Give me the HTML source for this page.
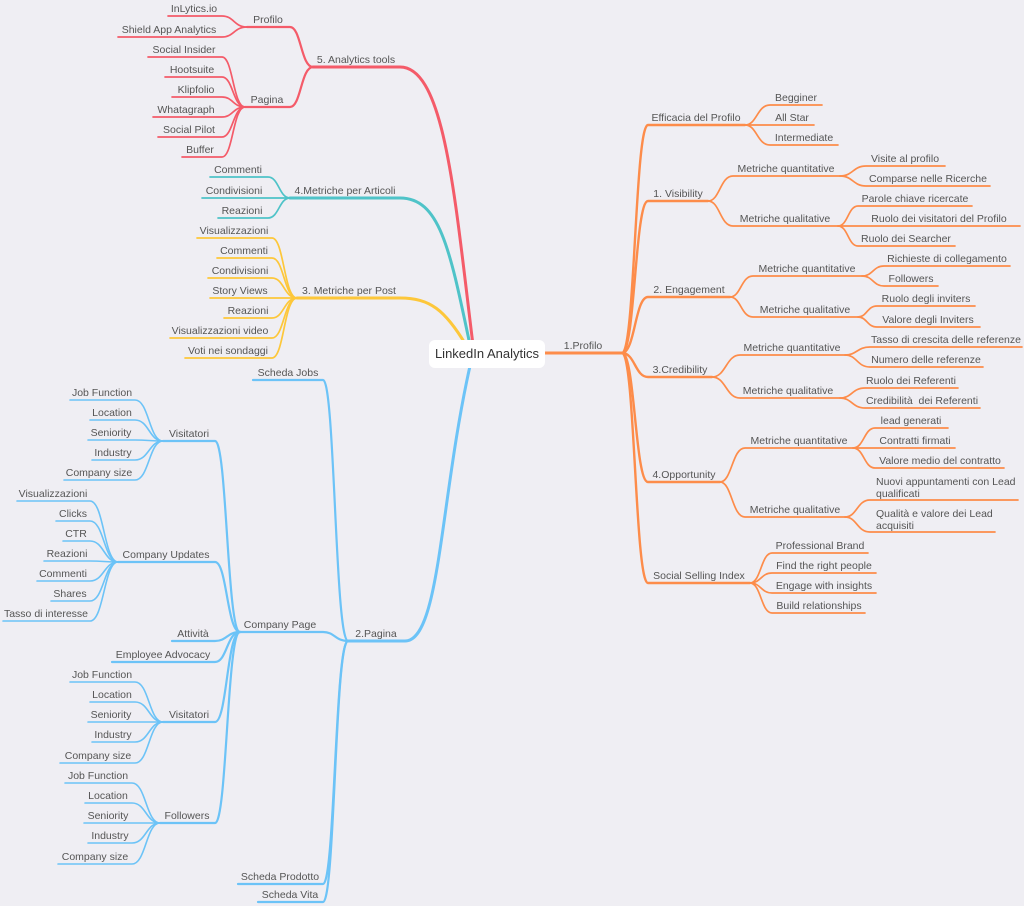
<!DOCTYPE html>
<html><head><meta charset="utf-8"><style>
html,body{margin:0;padding:0;background:#efeef3;}
svg{display:block}
text{font-family:"Liberation Sans",Arial,sans-serif;font-size:10.5px;fill:#555;text-anchor:middle}
path{fill:none;stroke-linecap:round}
</style></head><body>
<svg width="1024" height="906" viewBox="0 0 1024 906" xmlns="http://www.w3.org/2000/svg">
<!-- ORANGE -->
<g stroke="#fd8c4a">
<path stroke-width="3" d="M545 353 H622"/>
<g stroke-width="2.4">
<path d="M622 353 C635 353 635 125 648 125 H745"/>
<path d="M622 353 C635 353 635 201 648 201 H708"/>
<path d="M622 353 C635 353 635 297 648 297 H730"/>
<path d="M622 353 C635 353 635 377 648 377 H712"/>
<path d="M622 353 C635 353 635 482 648 482 H720"/>
<path d="M622 353 C635 353 635 583 648 583 H750"/>
</g>
<g stroke-width="1.7">
<path d="M745 125 C757 125 757 105 770 105 H822"/>
<path d="M745 125 C757 125 757 125 770 125 H814"/>
<path d="M745 125 C757 125 757 145 770 145 H838"/>
<path d="M708 201 C720 201 720 176 733 176 H840"/>
<path d="M708 201 C720 201 720 226 733 226 H838"/>
<path d="M840 176 C853 176 853 166 866 166 H945"/>
<path d="M840 176 C853 176 853 186 866 186 H990"/>
<path d="M838 226 C848 226 848 206 858 206 H972"/>
<path d="M838 226 C848 226 848 226 858 226 H1020"/>
<path d="M838 226 C848 226 848 246 858 246 H955"/>
<path d="M730 297 C741 297 741 276 753 276 H862"/>
<path d="M730 297 C741 297 741 317 753 317 H858"/>
<path d="M862 276 C873 276 873 266 884 266 H1010"/>
<path d="M862 276 C873 276 873 286 884 286 H938"/>
<path d="M858 317 C867 317 867 306 877 306 H975"/>
<path d="M858 317 C867 317 867 327 877 327 H980"/>
<path d="M712 377 C726 377 726 355 740 355 H845"/>
<path d="M712 377 C726 377 726 398 740 398 H840"/>
<path d="M845 355 C857 355 857 347 870 347 H1022"/>
<path d="M845 355 C857 355 857 367 870 367 H983"/>
<path d="M840 398 C852 398 852 388 865 388 H958"/>
<path d="M840 398 C852 398 852 408 865 408 H980"/>
<path d="M720 482 C732 482 732 448 745 448 H853"/>
<path d="M720 482 C732 482 732 517 745 517 H845"/>
<path d="M853 448 C864 448 864 428 875 428 H948"/>
<path d="M853 448 C864 448 864 448 875 448 H955"/>
<path d="M853 448 C864 448 864 468 875 468 H1004"/>
<path d="M845 517 C857 517 857 500 870 500 H1018"/>
<path d="M845 517 C857 517 857 532 870 532 H995"/>
<path d="M750 583 C761 583 761 553 772 553 H868"/>
<path d="M750 583 C761 583 761 573 772 573 H876"/>
<path d="M750 583 C761 583 761 593 772 593 H876"/>
<path d="M750 583 C761 583 761 613 772 613 H865"/>
</g>
</g>
<!-- RED -->
<g stroke="#f45b69">
<path stroke-width="3" d="M473 345 C455 200 445 67 400 67 H313"/>
<g stroke-width="2.2">
<path d="M313 67 C301 67 301 27 290 27 H247"/>
<path d="M313 67 C301 67 301 107 290 107 H245"/>
</g>
<g stroke-width="1.7">
<path d="M247 27 C234 27 234 16 222 16 H168"/>
<path d="M247 27 C234 27 234 37 222 37 H118"/>
<path d="M245 107 C233 107 233 57 222 57 H148"/>
<path d="M245 107 C233 107 233 77 222 77 H165"/>
<path d="M245 107 C233 107 233 97 222 97 H172"/>
<path d="M245 107 C233 107 233 117 222 117 H153"/>
<path d="M245 107 C233 107 233 137 222 137 H158"/>
<path d="M245 107 C233 107 233 157 222 157 H182"/>
</g>
</g>
<!-- TEAL -->
<g stroke="#4fc3c8">
<path stroke-width="3" d="M470 345 C450 250 440 198 400 198 H290"/>
<g stroke-width="1.7">
<path d="M290 198 C279 198 279 177 268 177 H210"/>
<path d="M290 198 C279 198 279 198 268 198 H202"/>
<path d="M290 198 C279 198 279 218 268 218 H218"/>
</g>
</g>
<!-- YELLOW -->
<g stroke="#fdc73a">
<path stroke-width="3" d="M466 345 C445 310 430 298 400 298 H297"/>
<g stroke-width="1.7">
<path d="M297 298 C284 298 284 238 272 238 H197"/>
<path d="M297 298 C284 298 284 258 272 258 H217"/>
<path d="M297 298 C284 298 284 278 272 278 H208"/>
<path d="M297 298 C284 298 284 298 272 298 H210"/>
<path d="M297 298 C284 298 284 318 272 318 H224"/>
<path d="M297 298 C284 298 284 338 272 338 H170"/>
<path d="M297 298 C284 298 284 358 272 358 H185"/>
</g>
</g>
<!-- BLUE -->
<g stroke="#6cc3f7">
<path stroke-width="3" d="M470 366 C440 500 440 641 405 641 H348"/>
<g stroke-width="2.2">
<path d="M348 641 C335 641 335 380 323 380 H253"/>
<path d="M348 641 C335 641 335 632 323 632 H240"/>
<path d="M348 641 C335 641 335 884 323 884 H238"/>
<path d="M348 641 C335 641 335 902 323 902 H258"/>
<path d="M240 632 C227 632 227 441 215 441 H163"/>
<path d="M240 632 C227 632 227 562 215 562 H118"/>
<path d="M240 632 C227 632 227 641 215 641 H172"/>
<path d="M240 632 C227 632 227 662 215 662 H112"/>
<path d="M240 632 C227 632 227 722 215 722 H163"/>
<path d="M240 632 C227 632 227 823 215 823 H160"/>
</g>
<g stroke-width="1.6">
<path d="M163 441 C149 441 149 400 135 400 H70"/>
<path d="M163 441 C149 441 149 420 135 420 H90"/>
<path d="M163 441 C149 441 149 440 135 440 H88"/>
<path d="M163 441 C149 441 149 460 135 460 H92"/>
<path d="M163 441 C149 441 149 480 135 480 H64"/>
<path d="M118 562 C104 562 104 501 90 501 H17"/>
<path d="M118 562 C104 562 104 521 90 521 H56"/>
<path d="M118 562 C104 562 104 541 90 541 H63"/>
<path d="M118 562 C104 562 104 561 90 561 H44"/>
<path d="M118 562 C104 562 104 581 90 581 H37"/>
<path d="M118 562 C104 562 104 601 90 601 H51"/>
<path d="M118 562 C104 562 104 621 90 621 H3"/>
<path d="M163 722 C149 722 149 682 135 682 H70"/>
<path d="M163 722 C149 722 149 702 135 702 H90"/>
<path d="M163 722 C149 722 149 722 135 722 H88"/>
<path d="M163 722 C149 722 149 742 135 742 H92"/>
<path d="M163 722 C149 722 149 763 135 763 H60"/>
<path d="M160 823 C146 823 146 783 132 783 H65"/>
<path d="M160 823 C146 823 146 803 132 803 H85"/>
<path d="M160 823 C146 823 146 823 132 823 H84"/>
<path d="M160 823 C146 823 146 843 132 843 H88"/>
<path d="M160 823 C146 823 146 864 132 864 H58"/>
</g>
</g>
<!-- center -->
<rect x="429" y="340" width="116" height="28" rx="6" fill="#fff"/>
<text x="487" y="358" style="font-size:13px;fill:#333">LinkedIn Analytics</text>
<!-- orange text -->
<text x="583" y="349">1.Profilo</text>
<text x="696" y="121">Efficacia del Profilo</text>
<text x="678" y="197">1. Visibility</text>
<text x="689" y="293">2. Engagement</text>
<text x="680" y="373">3.Credibility</text>
<text x="684" y="478">4.Opportunity</text>
<text x="699" y="579">Social Selling Index</text>
<text x="796" y="101">Begginer</text>
<text x="792" y="121">All Star</text>
<text x="804" y="141">Intermediate</text>
<text x="786" y="172">Metriche quantitative</text>
<text x="785" y="222">Metriche qualitative</text>
<text x="905" y="162">Visite al profilo</text>
<text x="928" y="182">Comparse nelle Ricerche</text>
<text x="915" y="202">Parole chiave ricercate</text>
<text x="939" y="222">Ruolo dei visitatori del Profilo</text>
<text x="906" y="242">Ruolo dei Searcher</text>
<text x="807" y="272">Metriche quantitative</text>
<text x="805" y="313">Metriche qualitative</text>
<text x="947" y="262">Richieste di collegamento</text>
<text x="911" y="282">Followers</text>
<text x="926" y="302">Ruolo degli inviters</text>
<text x="928" y="323">Valore degli Inviters</text>
<text x="792" y="355" dy="-4">Metriche quantitative</text>
<text x="788" y="394">Metriche qualitative</text>
<text x="946" y="343">Tasso di crescita delle referenze</text>
<text x="926" y="363">Numero delle referenze</text>
<text x="911" y="384">Ruolo dei Referenti</text>
<text x="922" y="404">Credibilità&#160; dei Referenti</text>
<text x="799" y="444">Metriche quantitative</text>
<text x="795" y="513">Metriche qualitative</text>
<text x="911" y="424">lead generati</text>
<text x="915" y="444">Contratti firmati</text>
<text x="940" y="464">Valore medio del contratto</text>
<text x="876" y="485" style="text-anchor:start">Nuovi appuntamenti con Lead</text>
<text x="876" y="497" style="text-anchor:start">qualificati</text>
<text x="876" y="517" style="text-anchor:start">Qualità e valore dei Lead</text>
<text x="876" y="529" style="text-anchor:start">acquisiti</text>
<text x="820" y="549">Professional Brand</text>
<text x="824" y="569">Find the right people</text>
<text x="824" y="589">Engage with insights</text>
<text x="819" y="609">Build relationships</text>
<!-- red text -->
<text x="356" y="63">5. Analytics tools</text>
<text x="268" y="23">Profilo</text>
<text x="267" y="103">Pagina</text>
<text x="194" y="12">InLytics.io</text>
<text x="169" y="33">Shield App Analytics</text>
<text x="184" y="53">Social Insider</text>
<text x="192" y="73">Hootsuite</text>
<text x="196" y="93">Klipfolio</text>
<text x="186" y="113">Whatagraph</text>
<text x="189" y="133">Social Pilot</text>
<text x="200" y="153">Buffer</text>
<!-- teal text -->
<text x="345" y="194">4.Metriche per Articoli</text>
<text x="238" y="173">Commenti</text>
<text x="234" y="194">Condivisioni</text>
<text x="242" y="214">Reazioni</text>
<!-- yellow text -->
<text x="349" y="294">3. Metriche per Post</text>
<text x="234" y="234">Visualizzazioni</text>
<text x="244" y="254">Commenti</text>
<text x="240" y="274">Condivisioni</text>
<text x="240" y="294">Story Views</text>
<text x="248" y="314">Reazioni</text>
<text x="220" y="334">Visualizzazioni video</text>
<text x="228" y="354">Voti nei sondaggi</text>
<!-- blue text -->
<text x="376" y="637">2.Pagina</text>
<text x="288" y="376">Scheda Jobs</text>
<text x="280" y="628">Company Page</text>
<text x="280" y="880">Scheda Prodotto</text>
<text x="290" y="898">Scheda Vita</text>
<text x="189" y="437">Visitatori</text>
<text x="166" y="558">Company Updates</text>
<text x="193" y="637">Attività</text>
<text x="163" y="658">Employee Advocacy</text>
<text x="189" y="718">Visitatori</text>
<text x="187" y="819">Followers</text>
<text x="102" y="396">Job Function</text>
<text x="112" y="416">Location</text>
<text x="111" y="436">Seniority</text>
<text x="113" y="456">Industry</text>
<text x="99" y="476">Company size</text>
<text x="53" y="497">Visualizzazioni</text>
<text x="73" y="517">Clicks</text>
<text x="76" y="537">CTR</text>
<text x="67" y="557">Reazioni</text>
<text x="63" y="577">Commenti</text>
<text x="70" y="597">Shares</text>
<text x="46" y="617">Tasso di interesse</text>
<text x="102" y="678">Job Function</text>
<text x="112" y="698">Location</text>
<text x="111" y="718">Seniority</text>
<text x="113" y="738">Industry</text>
<text x="98" y="759">Company size</text>
<text x="98" y="779">Job Function</text>
<text x="108" y="799">Location</text>
<text x="108" y="819">Seniority</text>
<text x="110" y="839">Industry</text>
<text x="95" y="860">Company size</text>
</svg>
</body></html>
